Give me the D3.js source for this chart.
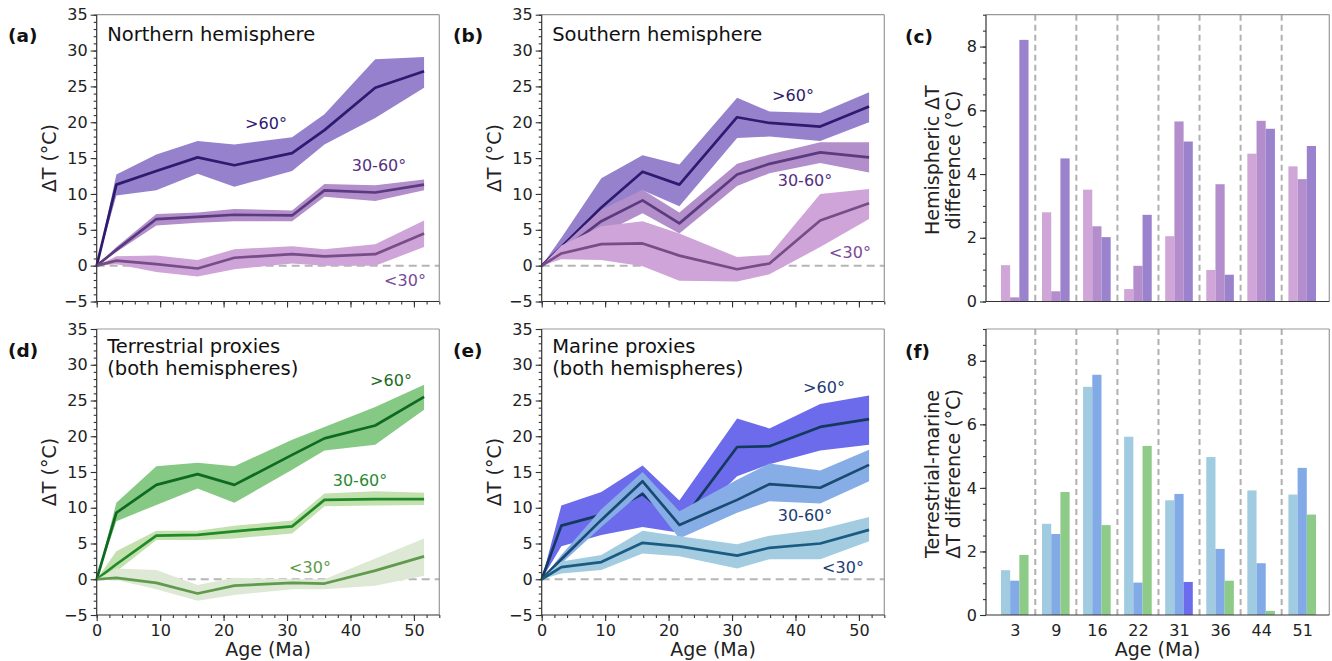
<!DOCTYPE html>
<html>
<head>
<meta charset="utf-8">
<script src="https://d3js.org/d3.v7.min.js"></script>
<style>
body { margin: 0; background: #fff; }
text { font-family: "DejaVu Sans", sans-serif; }
</style>
</head>
<body>
<div id="chart"></div>
<script>

// sample ages (Ma) for the line panels
const ages = [0, 3.1, 9.4, 15.9, 21.7, 30.8, 35.9, 43.9, 51.6];

// (a) northern hemisphere
const nhHigh   = [0, 11.3, 13.2, 15.1, 14.0, 15.7, 18.9, 24.8, 27.1];
const nhHighLo = [0, 9.8, 10.5, 12.8, 11.0, 13.2, 16.9, 20.6, 24.8];
const nhHighHi = [0, 12.7, 15.5, 17.4, 16.9, 17.9, 21.1, 28.8, 29.1];
const nhMid    = [0, 2.2, 6.5, 6.8, 7.1, 7.0, 10.5, 10.2, 11.3];
const nhMidLo  = [0, 1.9, 5.6, 6.0, 6.2, 6.2, 9.6, 9.0, 10.5];
const nhMidHi  = [0, 2.6, 7.2, 7.4, 7.9, 7.7, 11.4, 11.2, 12.0];
const nhLow    = [0, 0.7, 0.2, -0.4, 1.1, 1.6, 1.3, 1.6, 4.5];
const nhLowLo  = [0, 0.2, -0.9, -1.5, -0.5, 0.3, 0.0, 0.0, 2.6];
const nhLowHi  = [0, 1.3, 1.4, 0.8, 2.3, 2.7, 2.3, 3.0, 6.3];

// (b) southern hemisphere
const shHigh   = [0, 2.6, 8.1, 13.1, 11.3, 20.7, 19.9, 19.4, 22.2];
const shHighLo = [0, 2.2, 5.0, 10.5, 8.3, 17.8, 18.0, 17.4, 20.0];
const shHighHi = [0, 3.9, 12.2, 15.4, 14.1, 23.4, 21.5, 21.3, 24.2];
const shMid    = [0, 2.0, 6.2, 9.1, 5.9, 12.7, 14.2, 15.8, 15.1];
const shMidLo  = [0, 1.6, 4.4, 7.3, 4.5, 11.1, 12.9, 14.3, 13.0];
const shMidHi  = [0, 2.6, 7.8, 10.6, 7.4, 14.2, 15.5, 17.2, 17.2];
const shLow    = [0, 1.7, 3.0, 3.1, 1.4, -0.5, 0.3, 6.3, 8.7];
const shLowLo  = [0, 0.9, 0.8, -0.1, -2.1, -2.2, -1.2, 2.6, 6.5];
const shLowHi  = [0, 2.8, 5.5, 6.2, 4.5, 1.2, 1.5, 10.0, 10.7];

// (d) terrestrial proxies
const trHigh   = [0, 9.3, 13.2, 14.7, 13.2, 17.4, 19.7, 21.5, 25.5];
const trHighLo = [0, 8.1, 10.4, 12.7, 10.7, 15.3, 18.0, 18.8, 23.7];
const trHighHi = [0, 10.7, 15.8, 16.3, 15.8, 19.5, 21.3, 24.1, 27.2];
const trMid    = [0, 2.1, 6.1, 6.2, 6.7, 7.4, 11.1, 11.2, 11.2];
const trMidLo  = [0, 1.1, 5.5, 5.5, 5.7, 6.4, 10.2, 10.3, 10.4];
const trMidHi  = [0, 3.9, 6.8, 6.8, 7.5, 8.2, 12.0, 12.3, 12.1];
const trLow    = [0, 0.2, -0.5, -2.0, -0.9, -0.5, -0.6, 1.2, 3.2];
const trLowLo  = [0, -0.1, -1.4, -3.0, -2.2, -1.4, -1.4, -0.9, 0.5];
const trLowHi  = [0, 1.5, 1.3, -0.8, 0.2, 0.0, 0.0, 2.9, 5.7];

// (e) marine proxies
const mrHigh   = [0, 7.5, 9.0, 11.9, 7.7, 18.5, 18.6, 21.3, 22.4];
const mrHighLo = [0, 4.6, 6.2, 7.3, 6.5, 14.4, 16.1, 18.0, 18.8];
const mrHighHi = [0, 10.3, 12.2, 15.9, 11.0, 22.5, 21.1, 24.5, 25.7];
const mrMid    = [0, 2.8, 8.3, 13.7, 7.6, 11.1, 13.3, 12.8, 16.0];
const mrMidLo  = [0, 2.2, 7.3, 12.3, 5.7, 9.3, 10.9, 10.6, 13.7];
const mrMidHi  = [0, 3.4, 9.8, 15.0, 9.5, 13.9, 16.2, 15.2, 18.1];
const mrLow    = [0, 1.7, 2.4, 5.1, 4.6, 3.3, 4.4, 5.0, 6.9];
const mrLowLo  = [0, 0.8, 1.3, 3.6, 3.2, 1.5, 2.8, 2.8, 5.3];
const mrLowHi  = [0, 2.5, 3.4, 6.8, 6.0, 4.9, 6.1, 7.0, 8.7];

// bar panels
const barAges  = ["3", "9", "16", "22", "31", "36", "44", "51"];
const hemiLow  = [1.14, 2.80, 3.51, 0.39, 2.05, 0.99, 4.64, 4.24];
const hemiMid  = [0.13, 0.32, 2.36, 1.12, 5.65, 3.68, 5.67, 3.84];
const hemiHigh = [8.21, 4.49, 2.02, 2.72, 5.02, 0.84, 5.42, 4.88];
const tmLow    = [1.41, 2.87, 7.18, 5.61, 3.61, 4.97, 3.92, 3.79];
const tmMid    = [1.08, 2.55, 7.56, 1.02, 3.81, 2.08, 1.63, 4.63];
const tmHigh   = [1.89, 3.87, 2.83, 5.32, 1.04, 1.08, 0.13, 3.16];
// which side is warmer for the >60 bars (T = terrestrial, M = marine)
const tmHighWarmer = ["T", "T", "T", "T", "M", "T", "T", "T"];

const W = 1332, H = 661;
const svg = d3.select("#chart").append("svg")
  .attr("width", W).attr("height", H);

const tickCol = "#333";

function frame(g, x0, x1, y0, y1) {
  g.append("line").attr("x1", x0).attr("x2", x1).attr("y1", y0).attr("y2", y0).attr("stroke", "#999").attr("stroke-width", 1.2);
  g.append("line").attr("x1", x1).attr("x2", x1).attr("y1", y0).attr("y2", y1).attr("stroke", "#999").attr("stroke-width", 1.2);
  g.append("line").attr("x1", x0).attr("x2", x0).attr("y1", y0).attr("y2", y1).attr("stroke", "#333").attr("stroke-width", 1.2);
  g.append("line").attr("x1", x0).attr("x2", x1).attr("y1", y1).attr("y2", y1).attr("stroke", "#333").attr("stroke-width", 1.2);
}

function styleAxis(a) {
  a.select(".domain").remove();
  a.selectAll(".tick line").attr("stroke", tickCol).attr("stroke-width", 1.1);
  a.selectAll(".tick text").attr("font-size", 16).attr("fill", "#222")
    .attr("font-family", "DejaVu Sans");
}

function panelLetter(txt, x, y) {
  svg.append("text").attr("x", x).attr("y", y).text(txt)
    .attr("font-size", 18.5).attr("font-weight", "bold").attr("fill", "#111");
}

function yLabel(lines, cx, cy) {
  const t = svg.append("text")
    .attr("transform", `translate(${cx},${cy}) rotate(-90)`)
    .attr("text-anchor", "middle").attr("font-size", 19).attr("fill", "#222");
  lines.forEach((l, i) => {
    t.append("tspan").attr("x", 0)
      .attr("dy", i === 0 ? (0.35 - (lines.length - 1) * 0.55) + "em" : "1.1em")
      .text(l);
  });
}

function linePanel(p) {
  const x = d3.scaleLinear().domain([0, 54]).range([p.x0, p.x1]);
  const y = d3.scaleLinear().domain([-5, 35]).range([p.y1, p.y0]);
  const g = svg.append("g");

  g.append("line")
    .attr("x1", x(0)).attr("x2", x(54)).attr("y1", y(0)).attr("y2", y(0))
    .attr("stroke", "#b5b5b5").attr("stroke-width", 2).attr("stroke-dasharray", "8,5");

  p.series.forEach(s => {
    const rows = ages.map((a, i) => ({a: a, m: s.mean[i], lo: s.lo[i], hi: s.hi[i]}));
    g.append("path").datum(rows)
      .attr("d", d3.area().x(d => x(d.a)).y0(d => y(d.lo)).y1(d => y(d.hi)))
      .attr("fill", s.band);
    g.append("path").datum(rows)
      .attr("d", d3.line().x(d => x(d.a)).y(d => y(d.m)))
      .attr("fill", "none").attr("stroke", s.line).attr("stroke-width", 2.7)
      .attr("stroke-linejoin", "round");
  });

  p.series.forEach(s => {
    g.append("text").attr("x", s.lx).attr("y", s.ly).attr("dy", "0.35em")
      .attr("text-anchor", "middle").attr("font-size", 16).attr("fill", s.label)
      .text(s.name);
  });

  // axes
  const ya = g.append("g").attr("transform", `translate(${p.x0},0)`)
    .call(d3.axisLeft(y).tickValues(d3.range(-5, 36, 5)).tickSize(6).tickPadding(3));
  styleAxis(ya);
  const ym = g.append("g").attr("transform", `translate(${p.x0},0)`)
    .call(d3.axisLeft(y).tickValues(d3.range(-5, 36, 1)).tickSize(3).tickFormat(""));
  styleAxis(ym);

  const xa = g.append("g").attr("transform", `translate(0,${p.y1})`)
    .call(d3.axisBottom(x).tickValues(d3.range(0, 51, 10)).tickSize(6).tickPadding(4)
      .tickFormat(p.xLabels ? d3.format("d") : ""));
  styleAxis(xa);
  const xm = g.append("g").attr("transform", `translate(0,${p.y1})`)
    .call(d3.axisBottom(x).tickValues(d3.range(0, 55, 2)).tickSize(3).tickFormat(""));
  styleAxis(xm);

  frame(g, p.x0, p.x1, p.y0, p.y1);

  p.title.forEach((t, i) => {
    g.append("text").attr("x", p.x0 + 10.5).attr("y", p.titleY + i * 22)
      .attr("font-size", 19.5).attr("fill", "#111").text(t);
  });

  yLabel(["ΔT (°C)"], p.x0 - 47, (p.y0 + p.y1) / 2);
  if (p.xLabels) {
    svg.append("text").attr("x", (p.x0 + p.x1) / 2).attr("y", 656)
      .attr("text-anchor", "middle").attr("font-size", 19).attr("fill", "#222").text("Age (Ma)");
  }
}

function barPanel(p) {
  const x = d3.scaleLinear().domain([-0.7, 7.66]).range([p.x0, p.x1]);
  const y = d3.scaleLinear().domain([0, 9]).range([p.y1, p.y0]);
  const g = svg.append("g");
  const bw = 0.224;

  g.selectAll(".sep").data(d3.range(7)).join("line")
    .attr("x1", i => x(i + 0.5)).attr("x2", i => x(i + 0.5))
    .attr("y1", p.y0).attr("y2", p.y1)
    .attr("stroke", "#b0b0b0").attr("stroke-width", 2).attr("stroke-dasharray", "6,4");

  p.series.forEach((s, k) => {
    g.selectAll(null).data(s.values).join("rect")
      .attr("x", (v, i) => x(i + (k - 1) * bw - bw / 2))
      .attr("width", x(bw) - x(0))
      .attr("y", v => y(v))
      .attr("height", v => y(0) - y(v))
      .attr("fill", (v, i) => s.color(i));
  });

  const ya = g.append("g").attr("transform", `translate(${p.x0},0)`)
    .call(d3.axisLeft(y).tickValues([0, 2, 4, 6, 8]).tickSize(6).tickPadding(3));
  styleAxis(ya);
  const ym = g.append("g").attr("transform", `translate(${p.x0},0)`)
    .call(d3.axisLeft(y).tickValues(d3.range(0, 9.01, 0.5)).tickSize(3).tickFormat(""));
  styleAxis(ym);

  if (p.xLabels) {
    const xa = g.append("g").attr("transform", `translate(0,${p.y1})`)
      .call(d3.axisBottom(x).tickValues(d3.range(8)).tickSize(0).tickPadding(10)
        .tickFormat(i => barAges[i]));
    styleAxis(xa);
    svg.append("text").attr("x", (p.x0 + p.x1) / 2).attr("y", 656)
      .attr("text-anchor", "middle").attr("font-size", 19).attr("fill", "#222").text("Age (Ma)");
  }

  frame(g, p.x0, p.x1, p.y0, p.y1);
  yLabel(p.ylab, p.x0 - 43, (p.y0 + p.y1) / 2 + 2);
}

const rowTop = {y0: 14.7, y1: 301.5}, rowBot = {y0: 329, y1: 615};
const colA = {x0: 96.7, x1: 439.3}, colB = {x0: 541.7, x1: 884.3}, colC = {x0: 986, x1: 1329.3};

// purple palette (hemispheres)
const pHighBand = "#9682cc", pHighLine = "#2e1a6e";
const pMidBand = "#b28ecb", pMidLine = "#5b3a7f";
const pLowBand = "#cfa4d8", pLowLine = "#774d88";

linePanel(Object.assign({}, colA, rowTop, {
  title: ["Northern hemisphere"], titleY: 40.7, xLabels: false,
  series: [
    {name: ">60°", mean: nhHigh, lo: nhHighLo, hi: nhHighHi, band: pHighBand, line: pHighLine, label: "#2e1a6e", lx: 266, ly: 123},
    {name: "30-60°", mean: nhMid, lo: nhMidLo, hi: nhMidHi, band: pMidBand, line: pMidLine, label: "#55307f", lx: 379, ly: 165},
    {name: "<30°", mean: nhLow, lo: nhLowLo, hi: nhLowHi, band: pLowBand, line: pLowLine, label: "#7a4a98", lx: 405, ly: 280}
  ]
}));

linePanel(Object.assign({}, colB, rowTop, {
  title: ["Southern hemisphere"], titleY: 40.7, xLabels: false,
  series: [
    {name: ">60°", mean: shHigh, lo: shHighLo, hi: shHighHi, band: pHighBand, line: pHighLine, label: "#2e1a6e", lx: 793, ly: 95},
    {name: "30-60°", mean: shMid, lo: shMidLo, hi: shMidHi, band: pMidBand, line: pMidLine, label: "#55307f", lx: 805, ly: 180},
    {name: "<30°", mean: shLow, lo: shLowLo, hi: shLowHi, band: pLowBand, line: pLowLine, label: "#7a4a98", lx: 850, ly: 252}
  ]
}));

linePanel(Object.assign({}, colA, rowBot, {
  title: ["Terrestrial proxies", "(both hemispheres)"], titleY: 353.3, xLabels: true,
  series: [
    {name: ">60°", mean: trHigh, lo: trHighLo, hi: trHighHi, band: "#86c985", line: "#0d6a1f", label: "#1a6b24", lx: 391, ly: 380},
    {name: "30-60°", mean: trMid, lo: trMidLo, hi: trMidHi, band: "#c3e0af", line: "#1f8a27", label: "#2a8a30", lx: 360, ly: 480},
    {name: "<30°", mean: trLow, lo: trLowLo, hi: trLowHi, band: "#dde9d4", line: "#5f9a4d", label: "#5e9a4c", lx: 310, ly: 567}
  ]
}));

linePanel(Object.assign({}, colB, rowBot, {
  title: ["Marine proxies", "(both hemispheres)"], titleY: 353.3, xLabels: true,
  series: [
    {name: ">60°", mean: mrHigh, lo: mrHighLo, hi: mrHighHi, band: "#6b6beb", line: "#133a5e", label: "#1e3d73", lx: 824, ly: 387},
    {name: "30-60°", mean: mrMid, lo: mrMidLo, hi: mrMidHi, band: "#86ade6", line: "#184a72", label: "#1e3d73", lx: 805, ly: 515},
    {name: "<30°", mean: mrLow, lo: mrLowLo, hi: mrLowHi, band: "#a3cce0", line: "#1b5b82", label: "#1e3d73", lx: 843, ly: 567}
  ]
}));

barPanel(Object.assign({}, colC, rowTop, {
  xLabels: false, ylab: ["Hemispheric ΔT", "difference (°C)"],
  series: [
    {values: hemiLow, color: () => "#d0a6d9"},
    {values: hemiMid, color: () => "#b48ecc"},
    {values: hemiHigh, color: () => "#9a82cd"}
  ]
}));

barPanel(Object.assign({}, colC, rowBot, {
  xLabels: true, ylab: ["Terrestrial-marine", "ΔT difference (°C)"],
  series: [
    {values: tmLow, color: () => "#a0cbe0"},
    {values: tmMid, color: () => "#82aae6"},
    {values: tmHigh, color: i => tmHighWarmer[i] === "T" ? "#8ecb88" : "#6b6bee"}
  ]
}));

panelLetter("(a)", 8, 41.6);
panelLetter("(b)", 453, 41.6);
panelLetter("(c)", 905, 42.5);
panelLetter("(d)", 8, 357);
panelLetter("(e)", 453, 357);
panelLetter("(f)", 905, 357.5);

</script>
</body>
</html>
